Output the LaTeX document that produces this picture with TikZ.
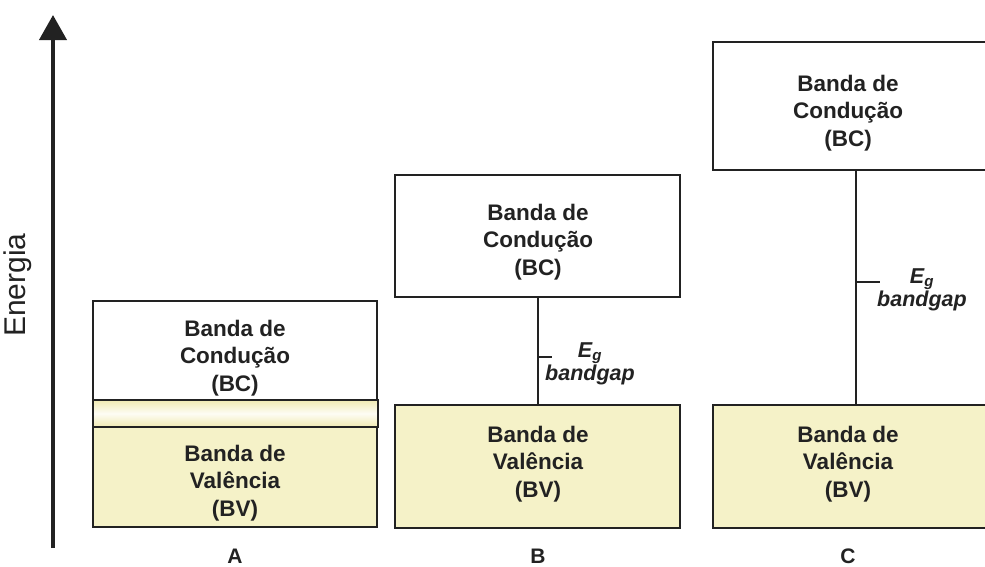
\documentclass[tikz,border=0pt]{standalone}
\usepackage{fontspec}
\setmainfont{Liberation Sans}
\usepackage{xcolor}
\usetikzlibrary{arrows.meta}
\definecolor{bvfill}{RGB}{245,242,200}
\definecolor{stripedge}{RGB}{240,234,178}
\definecolor{ink}{RGB}{34,34,34}

\begin{document}
\begin{tikzpicture}[x=1pt,y=-1pt,
    band/.style={draw=ink,line width=2.5pt,inner sep=0pt},
    bvband/.style={band,fill=bvfill},
    bandtxt/.style={align=center,text=ink,font=\fontsize{22.5}{27.5}\selectfont\bfseries},
    gaptxt/.style={align=center,text=ink,font=\fontsize{21.5}{20}\selectfont\bfseries\itshape},
    gapline/.style={draw=ink,line width=2pt},
    tag/.style={text=ink,font=\fontsize{21}{25}\selectfont\bfseries}]
    \useasboundingbox (0,0) rectangle (985,566);
    \coordinate (eBot) at (53,548);
    \coordinate (eTop) at (53,15);
    \draw[ink,line width=4pt,-{Triangle[width=27pt,length=25pt]}] (eBot) -- (eTop);
    \node[rotate=90,text=ink,font=\fontsize{30}{36}\selectfont] (energia) at (18,285) {Energia};

    \node[band,minimum width=284pt,minimum height=99pt] (bcA) at (235,350.5) {};
    \node[band,top color=stripedge,bottom color=stripedge,middle color=bvfill!20!white,minimum width=285pt,minimum height=27pt] (stripA) at (235.5,413.5) {};
    \node[bvband,minimum width=284pt,minimum height=100pt] (bvA) at (235,477) {};
    \node[bandtxt] (tbcA) at (235,358) {Banda de\\Condução\\(BC)};
    \node[bandtxt] (tbvA) at (235,483) {Banda de\\Valência\\(BV)};
    \node[tag] (tagA) at (235,556) {A};

    \node[band,minimum width=285pt,minimum height=122pt] (bcB) at (537.5,236) {};
    \node[bvband,minimum width=285pt,minimum height=123pt] (bvB) at (537.5,466.5) {};
    \node[bandtxt] (tbcB) at (538,242) {Banda de\\Condução\\(BC)};
    \node[bandtxt] (tbvB) at (538,464) {Banda de\\Valência\\(BV)};
    \coordinate (gB) at (538,357);
    \coordinate (tickB) at (552,357);
    \draw[gapline] (gB |- bcB.south) -- (gB |- bvB.north);
    \draw[gapline] (gB) -- (tickB);
    \node[gaptxt] (egB) at (590,364) {E\textsubscript{g}\\bandgap};
    \node[tag] (tagB) at (538,556) {B};

    \node[band,minimum width=275pt,minimum height=128pt] (bcC) at (850.5,106) {};
    \node[bvband,minimum width=275pt,minimum height=123pt] (bvC) at (850.5,466.5) {};
    \node[bandtxt] (tbcC) at (848,113) {Banda de\\Condução\\(BC)};
    \node[bandtxt] (tbvC) at (848,464) {Banda de\\Valência\\(BV)};
    \coordinate (gC) at (856,282);
    \coordinate (tickC) at (880,282);
    \draw[gapline] (gC |- bcC.south) -- (gC |- bvC.north);
    \draw[gapline] (gC) -- (tickC);
    \node[gaptxt] (egC) at (922,290) {E\textsubscript{g}\\bandgap};
    \node[tag] (tagC) at (848,556) {C};
\end{tikzpicture}
\end{document}
